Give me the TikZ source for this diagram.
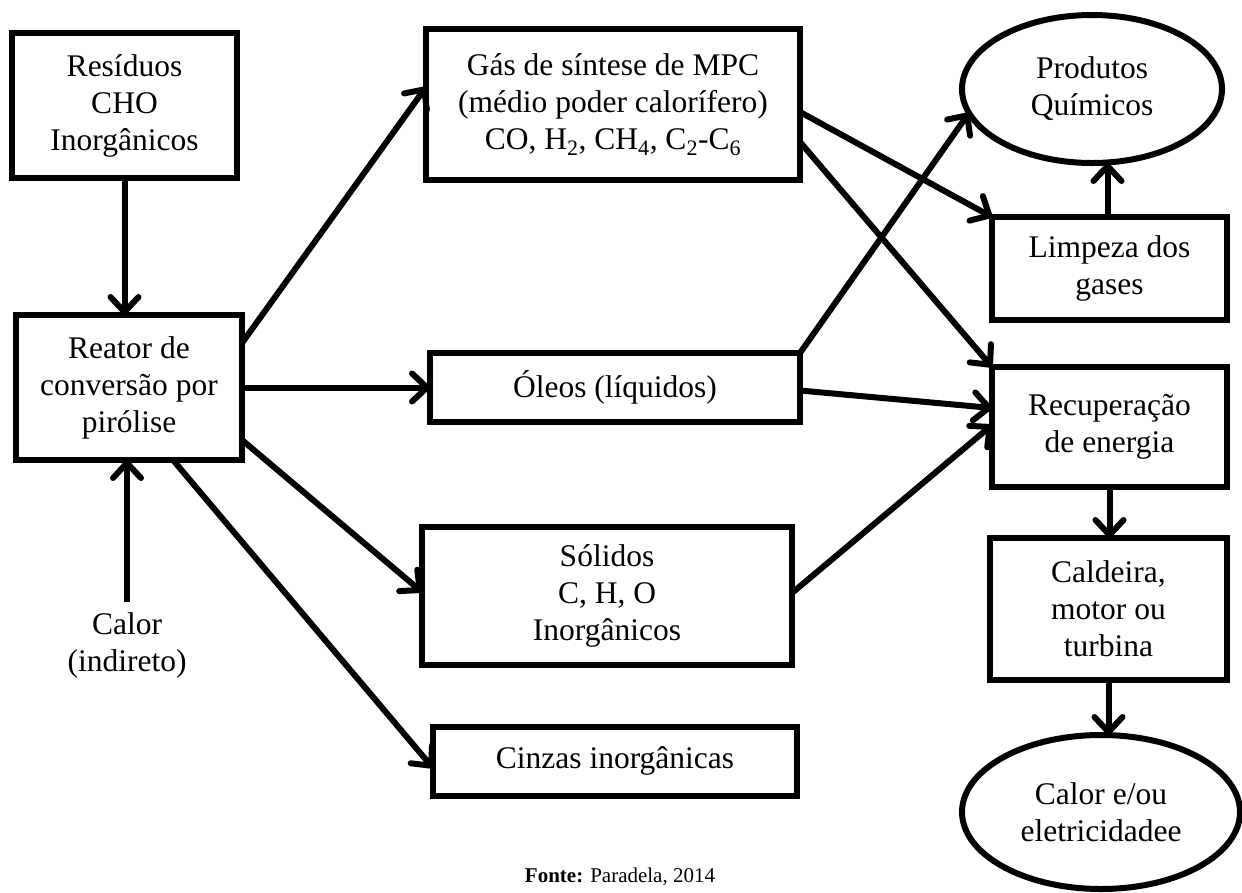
\documentclass[tikz,border=0pt]{standalone}
\usepackage{fontspec}
\setmainfont{Liberation Serif}
\usetikzlibrary{arrows.meta,shapes.geometric,calc}
\begin{document}
\begin{tikzpicture}[x=1pt,y=-1pt,
  txt/.style={font=\fontsize{31.5}{37}\selectfont},
  box/.style={draw,line width=6pt,rectangle,inner sep=0pt,outer sep=0pt,align=center,txt},
  oval/.style={draw,line width=6pt,ellipse,inner sep=0pt,outer sep=0pt,align=center,txt},
  plain/.style={inner sep=0pt,outer sep=0pt,align=center,txt},
  flow/.style={line width=6pt,-{Straight Barb[length=15pt,width=28pt,line cap=round,line join=round]}}
]
\useasboundingbox (0,0) rectangle (1242,892);
\node[box,minimum width=225pt,minimum height=145pt] (res) at (124.5,105.5) {Resíduos\\ CHO\\Inorgânicos};
\node[box,minimum width=226pt,minimum height=145pt] (reat) at (129,387.5) {Reator de\\conversão por\\pirólise};
\node[plain] (calor) at (127,645) {Calor\\(indireto)};
\node[box,minimum width=374pt,minimum height=151pt] (gas) at (613,104.5) {Gás de síntese de MPC\\(médio poder calorífero)\\CO, H\textsubscript{2}, CH\textsubscript{4}, C\textsubscript{2}-C\textsubscript{6}};
\node[box,minimum width=370pt,minimum height=69pt] (oleo) at (615,387.5) {Óleos (líquidos)};
\node[box,minimum width=370pt,minimum height=138pt] (sol) at (607,596) {Sólidos\\C, H, O\\Inorgânicos};
\node[box,minimum width=364pt,minimum height=69pt] (cinz) at (615,761) {Cinzas inorgânicas};
\node[oval,minimum width=260pt,minimum height=148pt] (prod) at (1092,89) {Produtos\\Químicos};
\node[box,minimum width=235pt,minimum height=103pt] (limp) at (1109.5,268.5) {Limpeza dos\\gases};
\node[box,minimum width=235pt,minimum height=120pt] (recu) at (1109.5,427) {Recuperação\\de energia};
\node[box,minimum width=237pt,minimum height=142pt] (cald) at (1108.5,609) {Caldeira,\\motor ou\\turbina};
\node[oval,minimum width=278pt,minimum height=154pt] (calel) at (1101,812) {Calor e/ou\\eletricidadee};
\node[plain,font=\fontsize{21}{24}\selectfont] (fonte) at (620,877) {\textbf{Fonte:} Paradela, 2014};

\draw[flow] (res.south) -- (res.south |- reat.north);
\draw[flow] ($(calor.north)+(0,-10)$) -- (calor.north |- reat.south);
\draw[flow] ($(reat.north east)+(0,28)$) -- ($(gas.north west)+(0,58)$);
\draw[flow] (reat.east) -- (oleo.west);
\draw[flow] ($(reat.south east)+(0,-20)$) -- ($(sol.west)+(0,-4)$);
\draw[flow] ($(reat.south)+(44,0)$) -- ($(cinz.west)+(0,7)$);
\draw[flow] ($(gas.north east)+(0,83)$) -- (limp.north west);
\draw[flow] ($(gas.north east)+(0,113)$) -- (recu.north west);
\draw[flow] (oleo.north east) -- (prod.191);
\draw[flow] ($(oleo.east)+(0,3)$) -- ($(recu.west)+(0,-19)$);
\draw[flow] ($(sol.east)+(0,-3)$) -- ($(recu.west)+(0,-2)$);
\draw[flow] ($(limp.north)+(-2,0)$) -- ($(limp.north |- prod.south)+(-2,0)$);
\draw[flow] (recu.south) -- (recu.south |- cald.north);
\draw[flow] (cald.south) -- (cald.south |- calel.north);
\end{tikzpicture}
\end{document}
